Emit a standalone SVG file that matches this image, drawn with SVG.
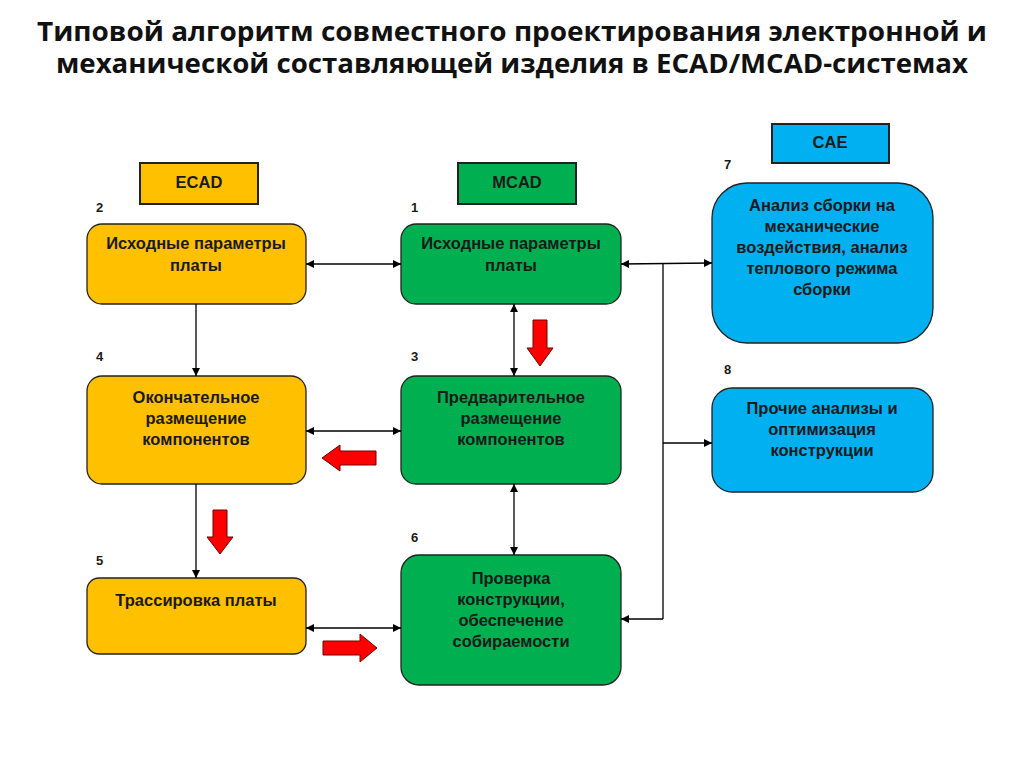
<svg xmlns="http://www.w3.org/2000/svg" width="1024" height="767" viewBox="0 0 1024 767">
<style>
.title{font-family:"Open Sans","Liberation Sans",Arial,sans-serif;font-weight:bold;font-size:27px;fill:#111;text-anchor:middle}
.t{font-family:"Liberation Sans",Arial,sans-serif;font-weight:bold;font-size:16.5px;fill:#1a1a1a;text-anchor:middle}
.num{font-family:"Liberation Sans",Arial,sans-serif;font-weight:bold;font-size:13px;fill:#1a1a1a}
.ecad{fill:#FFC000;stroke:#222;stroke-width:1.3}
.mcad{fill:#00B050;stroke:#222;stroke-width:1.3}
.cae{fill:#00B0F0;stroke:#222;stroke-width:1.3}
.lbl{stroke-width:2}
.c{stroke:#000;stroke-width:1.3;fill:none}
.red{fill:#FF0000;stroke:#700000;stroke-width:1}
</style>
<defs>
<marker id="ah" viewBox="0 0 10 10" refX="10" refY="5" markerWidth="8" markerHeight="8" markerUnits="userSpaceOnUse" orient="auto-start-reverse">
<path d="M0,0 L10,5 L0,10 z" fill="#000"/>
</marker>
</defs>
<rect width="1024" height="767" fill="#fff"/>
<text class="title" x="512" y="41" textLength="950" lengthAdjust="spacingAndGlyphs">Типовой алгоритм совместного проектирования электронной и</text>
<text class="title" x="512" y="73" textLength="912" lengthAdjust="spacingAndGlyphs">механической составляющей изделия в ECAD/MCAD-системах</text>

<g id="label-ecad"><rect class="ecad lbl" x="140" y="163" width="118" height="41"/><text class="t" x="199" y="188">ECAD</text></g>
<g id="label-mcad"><rect class="mcad lbl" x="458" y="163" width="118" height="41"/><text class="t" x="517" y="188">MCAD</text></g>
<g id="label-cae"><rect class="cae lbl" x="772" y="124" width="117" height="39"/><text class="t" x="830" y="148">CAE</text></g>

<g id="node2"><text class="num" x="96" y="212">2</text><rect class="ecad" x="87" y="224" width="219" height="80" rx="15"/><text class="t" x="196" y="249">Исходные параметры</text><text class="t" x="196" y="271">платы</text></g>
<g id="node1"><text class="num" x="411" y="212">1</text><rect class="mcad" x="401" y="224" width="220" height="80" rx="15"/><text class="t" x="511" y="249">Исходные параметры</text><text class="t" x="511" y="271">платы</text></g>
<g id="node7"><text class="num" x="724" y="169">7</text><rect class="cae" x="712" y="183" width="221" height="160" rx="35"/><text class="t" x="822" y="211">Анализ сборки на</text><text class="t" x="822" y="232">механические</text><text class="t" x="822" y="253">воздействия, анализ</text><text class="t" x="822" y="274">теплового режима</text><text class="t" x="822" y="295">сборки</text></g>
<g id="node4"><text class="num" x="96" y="361">4</text><rect class="ecad" x="87" y="376" width="219" height="108" rx="15"/><text class="t" x="196" y="403">Окончательное</text><text class="t" x="196" y="424">размещение</text><text class="t" x="196" y="445">компонентов</text></g>
<g id="node3"><text class="num" x="411" y="361">3</text><rect class="mcad" x="401" y="376" width="220" height="108" rx="15"/><text class="t" x="511" y="403">Предварительное</text><text class="t" x="511" y="424">размещение</text><text class="t" x="511" y="445">компонентов</text></g>
<g id="node8"><text class="num" x="724" y="374">8</text><rect class="cae" x="712" y="388" width="221" height="104" rx="20"/><text class="t" x="822" y="414">Прочие анализы и</text><text class="t" x="822" y="435">оптимизация</text><text class="t" x="822" y="456">конструкции</text></g>
<g id="node5"><text class="num" x="96" y="565">5</text><rect class="ecad" x="87" y="578" width="219" height="76" rx="12"/><text class="t" x="196" y="606">Трассировка платы</text></g>
<g id="node6"><text class="num" x="411" y="542">6</text><rect class="mcad" x="401" y="555" width="220" height="130" rx="18"/><text class="t" x="511" y="584">Проверка</text><text class="t" x="511" y="605">конструкции,</text><text class="t" x="511" y="626">обеспечение</text><text class="t" x="511" y="647">собираемости</text></g>

<g id="connectors">
<line class="c" x1="306" y1="264" x2="401" y2="264" marker-start="url(#ah)" marker-end="url(#ah)"/>
<line class="c" x1="306" y1="431" x2="401" y2="431" marker-start="url(#ah)" marker-end="url(#ah)"/>
<line class="c" x1="306" y1="628" x2="401" y2="628" marker-start="url(#ah)" marker-end="url(#ah)"/>
<line class="c" x1="196" y1="304" x2="196" y2="376" marker-end="url(#ah)"/>
<line class="c" x1="196" y1="484" x2="196" y2="578" marker-end="url(#ah)"/>
<line class="c" x1="514" y1="304" x2="514" y2="376" marker-start="url(#ah)" marker-end="url(#ah)"/>
<line class="c" x1="514" y1="484" x2="514" y2="555" marker-start="url(#ah)" marker-end="url(#ah)"/>
<line class="c" x1="621" y1="264" x2="712" y2="263" marker-start="url(#ah)" marker-end="url(#ah)"/>
<line class="c" x1="663" y1="264" x2="663" y2="619"/>
<line class="c" x1="663" y1="619" x2="621" y2="619" marker-end="url(#ah)"/>
<line class="c" x1="663" y1="443" x2="712" y2="443" marker-end="url(#ah)"/>
</g>

<g id="red-arrows">
<path class="red" d="M533,320 H547 V348 H553 L540,366 L527,348 H533 Z"/>
<path class="red" d="M376,451 V465 H340 V471 L322,458 L340,445 V451 Z"/>
<path class="red" d="M213,510 H227 V537 H233 L220,554 L207,537 H213 Z"/>
<path class="red" d="M323,641 H360 V634 L377,648 L360,662 V655 H323 Z"/>
</g>
</svg>
